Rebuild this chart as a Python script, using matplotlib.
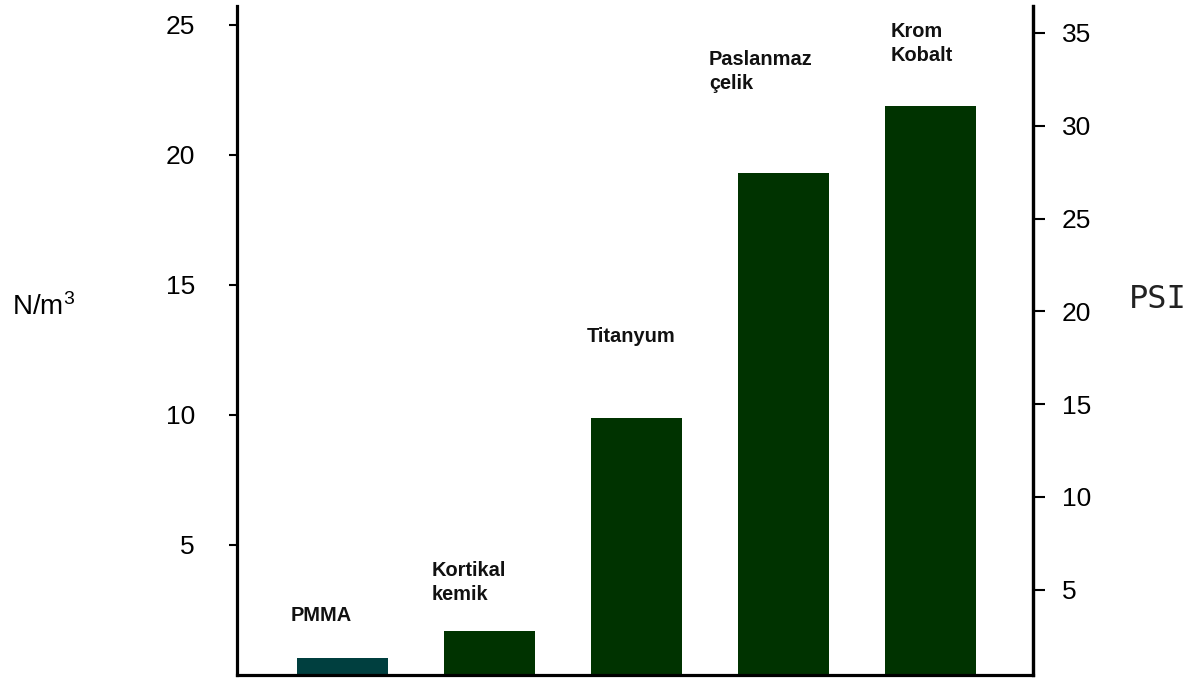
import matplotlib
matplotlib.use("Agg")
import matplotlib.pyplot as plt

plt.rcParams["mathtext.fontset"] = "custom"
plt.rcParams["mathtext.rm"] = "Liberation Sans"
plt.rcParams["mathtext.it"] = "Liberation Sans"

# Materials and their values (left axis, N/m³)
materials = ["PMMA", "Kortikal\nkemik", "Titanyum", "Paslanmaz\nçelik", "Krom\nKobalt"]
values = [0.65, 1.7, 9.9, 19.3, 21.9]
left_ticks = [5, 10, 15, 20, 25]
right_ticks = [5, 10, 15, 20, 25, 30, 35]

bar_colors = ["#003f3f", "#003300", "#003300", "#003300", "#003300"]

# label anchors (data coords: left edge x, first-line baseline y)
label_pos = [(-0.35, 2.08), (0.61, 3.81), (1.664, 12.81), (2.495, 23.46), (3.734, 24.54)]

DPI = 100
fig = plt.figure(figsize=(11.96, 6.79), dpi=DPI)
fig.patch.set_facecolor("white")
ax = fig.add_axes([237 / 1196, 4 / 679, 796 / 1196, 669 / 679])

x = list(range(len(materials)))
ax.bar(x, values, width=0.62, color=bar_colors, zorder=2)

ax.set_xlim(-0.718, 4.70)
ax.set_ylim(0, 25.73)
ax.set_xticks([])
ax.set_yticks(left_ticks)
ax.set_yticklabels([str(t) for t in left_ticks], fontsize=19, family="Liberation Sans")
ax.tick_params(axis="y", direction="out", length=5.8, width=1.5, pad=24.5, colors="black")

for side in ["left", "bottom", "right"]:
    ax.spines[side].set_linewidth(2.3)
    ax.spines[side].set_color("black")
ax.spines["top"].set_visible(False)

# secondary PSI scale on the right
ax2 = ax.twinx()
ax2.set_ylim(0.41, 36.45)
ax2.set_yticks(right_ticks)
ax2.set_yticklabels([str(t) for t in right_ticks], fontsize=19, family="Liberation Sans")
ax2.tick_params(axis="y", direction="out", length=8.6, width=1.5, pad=12, colors="black")
for side in ["left", "bottom", "top"]:
    ax2.spines[side].set_visible(False)
ax2.spines["right"].set_linewidth(2.3)

# bar captions, one line at a time
line_step = 24 * 72 / DPI
for name, (lx, ly) in zip(materials, label_pos):
    for i, line in enumerate(name.split("\n")):
        ax.annotate(line, xy=(lx, ly), xytext=(0, -i * line_step),
                    textcoords="offset points", ha="left", va="baseline",
                    fontsize=14.4, fontweight="bold", family="Liberation Sans",
                    color="#111111", annotation_clip=False)

fig.text(12 / 1196, 1 - 315 / 679, r"N/m$^{\mathregular{3}}$", fontsize=20,
         family="Liberation Sans", ha="left", va="baseline", color="black")
fig.text(1129 / 1196, 1 - 308 / 679, "PSI", fontsize=23, family="DejaVu Sans Mono",
         ha="left", va="baseline", color="#222222")

fig.savefig("out.png", dpi=DPI, facecolor="white")
